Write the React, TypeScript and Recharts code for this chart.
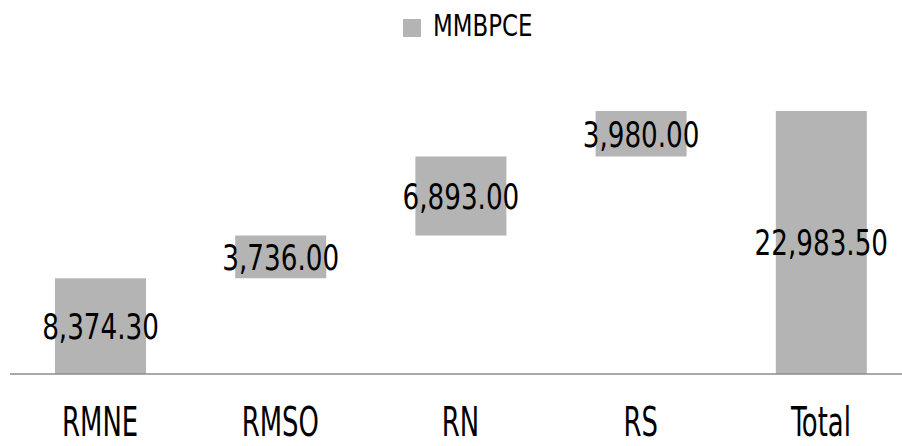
import { BarChart, Bar, XAxis, YAxis, LabelList, Legend } from 'recharts';

const categories = ['RMNE', 'RMSO', 'RN', 'RS', 'Total'];
const values = [8374.3, 3736.0, 6893.0, 3980.0, 22983.5];
const isTotal = [false, false, false, false, true];
const seriesName = 'MMBPCE';

// no narrow font installed, so DejaVu Condensed squeezed horizontally
const FONT = "'DejaVu Sans Condensed', 'DejaVu Sans', sans-serif";
const BAR_COLOR = '#b4b4b4';

// waterfall: invisible base + visible step
let running = 0;
const data = categories.map((name, i) => {
  const base = isTotal[i] ? 0 : running;
  if (!isTotal[i]) running += values[i];
  return { name, base, value: values[i] };
});

const fmt = (v: any) =>
  Number(v).toLocaleString('en-US', { minimumFractionDigits: 2, maximumFractionDigits: 2 });

const Tick = ({ x, y, payload }: any) => (
  <text
    transform={`translate(${x},${y + 62}) scale(0.72,1)`}
    textAnchor="middle"
    fontSize={40}
    fill="#000"
    fontFamily={FONT}
  >
    {payload.value}
  </text>
);

const ValueLabel = (props: any) => {
  const { x, y, width, height, value } = props;
  const fs = 36;
  const cx = x + width / 2;
  const cy = y + height / 2 + fs * 0.36;
  return (
    <text
      transform={`translate(${cx},${cy}) scale(0.81,1)`}
      textAnchor="middle"
      fontSize={fs}
      fill="#000"
      fontFamily={FONT}
    >
      {fmt(value)}
    </text>
  );
};

const LegendContent = () => (
  <div style={{ display: 'flex', alignItems: 'flex-start', fontFamily: FONT }}>
    <span style={{ width: 18, height: 18, background: BAR_COLOR, marginRight: 12, marginTop: 9 }} />
    <span
      style={{
        fontSize: 31,
        lineHeight: '31px',
        color: '#000',
        display: 'inline-block',
        transform: 'scaleX(0.82)',
        transformOrigin: 'left center',
      }}
    >
      {seriesName}
    </span>
  </div>
);

export default function App() {
  return (
    <div style={{ position: 'absolute', left: 0, top: 0, width: 902, height: 446, overflow: 'hidden', background: '#fff' }}>
      <BarChart
        width={911}
        height={446}
        data={data}
        margin={{ top: 111, right: 0, left: 10, bottom: 0 }}
      >
        <XAxis
          dataKey="name"
          height={72}
          tickLine={false}
          tickSize={0}
          tickMargin={0}
          axisLine={{ stroke: '#8c8c8c', strokeWidth: 1.5 }}
          tick={<Tick />}
          interval={0}
        />
        <YAxis hide domain={[0, 'dataMax']} />
        <Legend
          verticalAlign="middle"
          align="center"
          wrapperStyle={{ top: 10, left: 403, width: 'auto' }}
          content={<LegendContent />}
        />
        <Bar dataKey="base" stackId="w" fill="transparent" barSize={91} isAnimationActive={false} legendType="none" />
        <Bar dataKey="value" name={seriesName} stackId="w" fill={BAR_COLOR} barSize={91} isAnimationActive={false}>
          <LabelList dataKey="value" content={<ValueLabel />} />
        </Bar>
      </BarChart>
    </div>
  );
}
